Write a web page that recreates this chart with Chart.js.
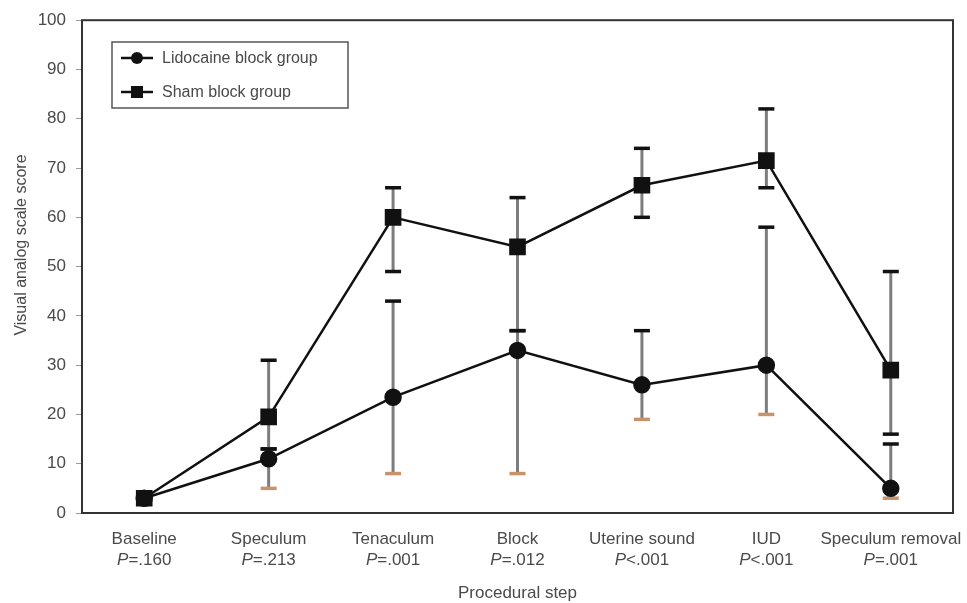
<!DOCTYPE html>
<html>
<head>
<meta charset="utf-8">
<script src="https://cdn.jsdelivr.net/npm/chart.js@4.4.1/dist/chart.umd.min.js"></script>
<style>
  html, body { margin: 0; padding: 0; background: #fff; }
</style>
</head>
<body>
<canvas id="vasChart" width="967" height="603"></canvas>
<script>
// data
var steps = ['Baseline', 'Speculum', 'Tenaculum', 'Block', 'Uterine sound', 'IUD', 'Speculum removal'];
var pValues = ['=.160', '=.213', '=.001', '=.012', '<.001', '<.001', '=.001'];
var yTicks = [0, 10, 20, 30, 40, 50, 60, 70, 80, 90, 100];

var lidoMean  = [3, 11, 23.5, 33, 26, 30, 5];
var lidoUpper = [3, 13, 43, 37, 37, 58, 14];
var lidoLower = [3, 5, 8, 8, 19, 20, 3];

var shamMean  = [3, 19.5, 60, 54, 66.5, 71.5, 29];
var shamUpper = [3, 31, 66, 64, 74, 82, 49];
var shamLower = [3, 13, 49, 37, 60, 66, 16];

var FONT = '"Liberation Sans", Arial, sans-serif';
var TEXT = '#4a4a4a';

// error bars behind the lines
var errorBars = {
  id: 'errorBars',
  beforeDatasetsDraw: function (chart) {
    var ctx = chart.ctx;
    var x = chart.scales.x, y = chart.scales.y;
    var sets = [
      { up: lidoUpper, lo: lidoLower, loCap: '#c9936a' },
      { up: shamUpper, lo: shamLower, loCap: '#111' }
    ];
    ctx.save();
    sets.forEach(function (s) {
      for (var i = 0; i < steps.length; i++) {
        if (s.up[i] === s.lo[i]) continue;
        var px = x.getPixelForValue(i);
        var yt = y.getPixelForValue(s.up[i]);
        var yb = y.getPixelForValue(s.lo[i]);
        ctx.strokeStyle = '#7d7d7d';
        ctx.lineWidth = 3;
        ctx.beginPath();
        ctx.moveTo(px, yt);
        ctx.lineTo(px, yb);
        ctx.stroke();
        ctx.lineWidth = 3.5;
        ctx.strokeStyle = '#111';
        ctx.beginPath();
        ctx.moveTo(px - 8, yt);
        ctx.lineTo(px + 8, yt);
        ctx.stroke();
        ctx.strokeStyle = s.loCap;
        ctx.beginPath();
        ctx.moveTo(px - 8, yb);
        ctx.lineTo(px + 8, yb);
        ctx.stroke();
      }
    });
    ctx.restore();
  }
};

// frame, x labels with italic P, y title, legend
var decorations = {
  id: 'decorations',
  afterDraw: function (chart) {
    var ctx = chart.ctx;
    var a = chart.chartArea;
    var x = chart.scales.x;
    ctx.save();
    ctx.strokeStyle = '#333';
    ctx.lineWidth = 2;
    ctx.strokeRect(a.left, a.top, a.right - a.left, a.bottom - a.top);

    ctx.fillStyle = TEXT;
    ctx.textBaseline = 'middle';
    for (var i = 0; i < steps.length; i++) {
      var px = x.getPixelForValue(i);
      ctx.font = '17px ' + FONT;
      ctx.textAlign = 'center';
      ctx.fillText(steps[i], px, 539);
      ctx.font = 'italic 17px ' + FONT;
      var wP = ctx.measureText('P').width;
      ctx.font = '17px ' + FONT;
      var wR = ctx.measureText(pValues[i]).width;
      var start = px - (wP + wR) / 2;
      ctx.textAlign = 'left';
      ctx.font = 'italic 17px ' + FONT;
      ctx.fillText('P', start, 560);
      ctx.font = '17px ' + FONT;
      ctx.fillText(pValues[i], start + wP, 560);
    }
    ctx.textAlign = 'center';
    ctx.fillText('Procedural step', (a.left + a.right) / 2, 593);

    ctx.translate(22, 245);
    ctx.rotate(-Math.PI / 2);
    ctx.font = '16px ' + FONT;
    ctx.fillText('Visual analog scale score', 0, 0);
    ctx.setTransform(1, 0, 0, 1, 0, 0);

    // legend
    ctx.strokeStyle = '#555';
    ctx.lineWidth = 1.5;
    ctx.strokeRect(112, 42, 236, 66);
    var items = [
      { label: chart.data.datasets[0].label, style: 'circle', y: 58 },
      { label: chart.data.datasets[1].label, style: 'rect', y: 92 }
    ];
    items.forEach(function (it) {
      ctx.strokeStyle = '#111';
      ctx.lineWidth = 2.5;
      ctx.beginPath();
      ctx.moveTo(121, it.y);
      ctx.lineTo(153, it.y);
      ctx.stroke();
      ctx.fillStyle = '#111';
      ctx.beginPath();
      if (it.style === 'circle') {
        ctx.arc(137, it.y, 6, 0, Math.PI * 2);
      } else {
        ctx.rect(131, it.y - 6, 12, 12);
      }
      ctx.fill();
      ctx.fillStyle = TEXT;
      ctx.font = '16px ' + FONT;
      ctx.textAlign = 'left';
      ctx.fillText(it.label, 162, it.y + 1);
    });
    ctx.restore();
  }
};

new Chart(document.getElementById('vasChart').getContext('2d'), {
  type: 'line',
  data: {
    labels: steps,
    datasets: [{
      label: 'Lidocaine block group',
      data: lidoMean,
      borderColor: '#111',
      backgroundColor: '#111',
      borderWidth: 2.5,
      pointStyle: 'circle',
      pointRadius: 7.5,
      pointHoverRadius: 7.5,
      tension: 0
    }, {
      label: 'Sham block group',
      data: shamMean,
      borderColor: '#111',
      backgroundColor: '#111',
      borderWidth: 2.5,
      pointStyle: 'rect',
      pointRadius: 10,
      pointHoverRadius: 10,
      tension: 0
    }]
  },
  options: {
    responsive: false,
    animation: false,
    layout: { padding: { top: 17, right: 14, left: 0, bottom: 0 } },
    plugins: {
      legend: { display: false },
      tooltip: { enabled: false }
    },
    scales: {
      x: {
        offset: true,
        grid: { display: false, drawTicks: false },
        border: { display: false },
        ticks: { display: false },
        afterFit: function (scale) { scale.height = 90; }
      },
      y: {
        min: 0,
        max: 100,
        afterBuildTicks: function (scale) {
          scale.ticks = yTicks.map(function (v) { return { value: v }; });
        },
        grid: { drawOnChartArea: false, drawTicks: true, tickLength: 6, color: '#999' },
        border: { display: false },
        ticks: {
          padding: 10,
          color: TEXT,
          font: { family: FONT, size: 17 }
        },
        afterFit: function (scale) { scale.width = 82; }
      }
    }
  },
  plugins: [errorBars, decorations]
});
</script>
</body>
</html>
